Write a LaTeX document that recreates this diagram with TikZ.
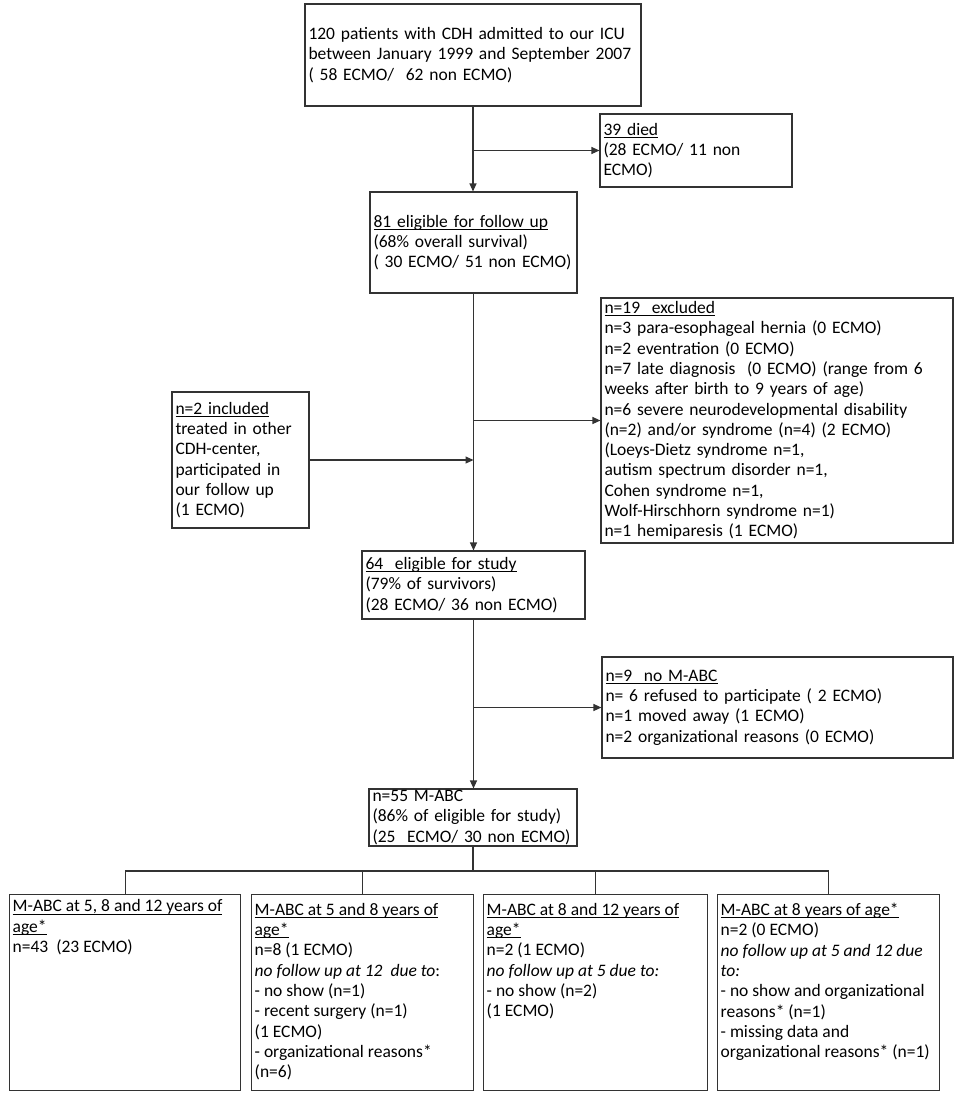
\documentclass[tikz,border=0pt]{standalone}
\usepackage{fontspec}
\setmainfont{Carlito}
\usetikzlibrary{arrows.meta,calc}
\newcommand\myul[1]{\setbox0=\hbox{#1}\rlap{\rule[-2.6pt]{\wd0}{0.9pt}}\box0}
\begin{document}
\begin{tikzpicture}[x=1pt,y=-1pt,
  every node/.style={font=\fontsize{17.5pt}{20.3pt}\selectfont, text=black},
  cbox/.style={draw=black!80, line width=1.1pt, rectangle, inner xsep=3.5pt, inner ysep=0pt, align=left},
  bbox/.style={draw=black!80, line width=1.1pt, rectangle, anchor=north west, minimum width=#1, minimum height=196pt, inner sep=0pt},
  btxt/.style={anchor=north west, inner sep=0pt, align=left},
  conn/.style={draw=black!80, line width=1.1pt},
  arr/.style={conn, -{Triangle[length=8pt,width=7pt]}}]
\useasboundingbox (0,0) rectangle (957,1096);

\node[cbox, text width=329pt, minimum height=102pt] (top) at (473,55)
 {120 patients with CDH admitted to our ICU\\between January 1999 and September 2007\\( 58 ECMO/\ \ 62 non ECMO)};
\node[cbox, text width=185pt, minimum height=73pt] (died) at (696,150.5)
 {\myul{39 died}\\(28 ECMO/ 11 non\\ECMO)};
\node[cbox, text width=200pt, minimum height=101pt] (f81) at (473.5,242.5)
 {\myul{81 eligible for follow up}\\(68\% overall survival)\\( 30 ECMO/ 51 non ECMO)};
\node[cbox, text width=345pt, minimum height=245pt] (excl) at (777,420.5)
 {\myul{n=19\ \ excluded}\\
  n=3 para-esophageal hernia (0 ECMO)\\
  n=2 eventration (0 ECMO)\\
  n=7 late diagnosis\ \ (0 ECMO) (range from 6\\
  weeks after birth to 9 years of age)\\
  n=6 severe neurodevelopmental disability\\
  (n=2) and/or syndrome (n=4) (2 ECMO)\\
  (Loeys-Dietz syndrome n=1,\\
  autism spectrum disorder n=1,\\
  Cohen syndrome n=1,\\
  Wolf-Hirschhorn syndrome n=1)\\
  n=1 hemiparesis (1 ECMO)};
\node[cbox, text width=130pt, minimum height=136pt] (incl) at (240.5,460)
 {\myul{n=2 included}\\treated in other\\CDH-center,\\participated in\\our follow up\\(1 ECMO)};
\node[cbox, text width=216pt, minimum height=68pt] (s64) at (473.5,585)
 {\myul{64\ \ eligible for study}\\(79\% of survivors)\\(28 ECMO/ 36 non ECMO)};
\node[cbox, text width=344pt, minimum height=101pt] (noabc) at (777.5,707.5)
 {\myul{n=9\ \ no M-ABC}\\
  n= 6 refused to participate ( 2 ECMO)\\
  n=1 moved away (1 ECMO)\\
  n=2 organizational reasons (0 ECMO)};
\node[cbox, text width=201pt, minimum height=57pt] (m55) at (473,817.5)
 {n=55 M-ABC\\(86\% of eligible for study)\\(25\ \ ECMO/ 30 non ECMO)};

\node[bbox=231pt] (b1) at (9,894) {};
\node[bbox=222pt] (b2) at (251,894) {};
\node[bbox=224pt] (b3) at (483,894) {};
\node[bbox=222pt] (b4) at (717,894) {};

\node[btxt] (t1) at ($(b1.north west)+(3.5,5.5)$)
 {\myul{M-ABC at 5, 8 and 12 years of}\\\myul{age*}\\n=43\ \ (23 ECMO)};
\node[btxt] (t2) at ($(b2.north west)+(3.5,9)$)
 {\myul{M-ABC at 5 and 8 years of}\\\myul{age*}\\n=8 (1 ECMO)\\\textit{no follow up at 12\ \ due to}:\\- no show (n=1)\\- recent surgery (n=1)\\(1 ECMO)\\- organizational reasons*\\(n=6)};
\node[btxt] (t3) at ($(b3.north west)+(3.5,9)$)
 {\myul{M-ABC at 8 and 12 years of}\\\myul{age*}\\n=2 (1 ECMO)\\\textit{no follow up at 5 due to:}\\- no show (n=2)\\(1 ECMO)};
\node[btxt] (t4) at ($(b4.north west)+(3.5,9)$)
 {\myul{M-ABC at 8 years of age*}\\n=2 (0 ECMO)\\\textit{no follow up at 5 and 12 due}\\\textit{to:}\\- no show and organizational\\reasons* (n=1)\\- missing data and\\organizational reasons* (n=1)};

\draw[arr] (top.south) -- (top.south |- f81.north);
\draw[arr] (top.south |- died.west) -- (died.west);
\draw[arr] (f81.south) -- (f81.south |- s64.north);
\draw[arr] (f81.south |- excl.west) -- (excl.west);
\draw[arr] (incl.east) -- (incl.east -| f81.south);
\draw[arr] (s64.south) -- (s64.south |- m55.north);
\draw[arr] (s64.south |- noabc.west) -- (noabc.west);
\coordinate (hub) at (473,871);
\draw[conn] (m55.south) -- (m55.south |- hub);
\draw[conn] (b1.north |- hub) -- (b4.north |- hub);
\foreach \b in {b1,b2,b3,b4} {\draw[conn] (\b.north |- hub) -- (\b.north);}
\end{tikzpicture}
\end{document}
